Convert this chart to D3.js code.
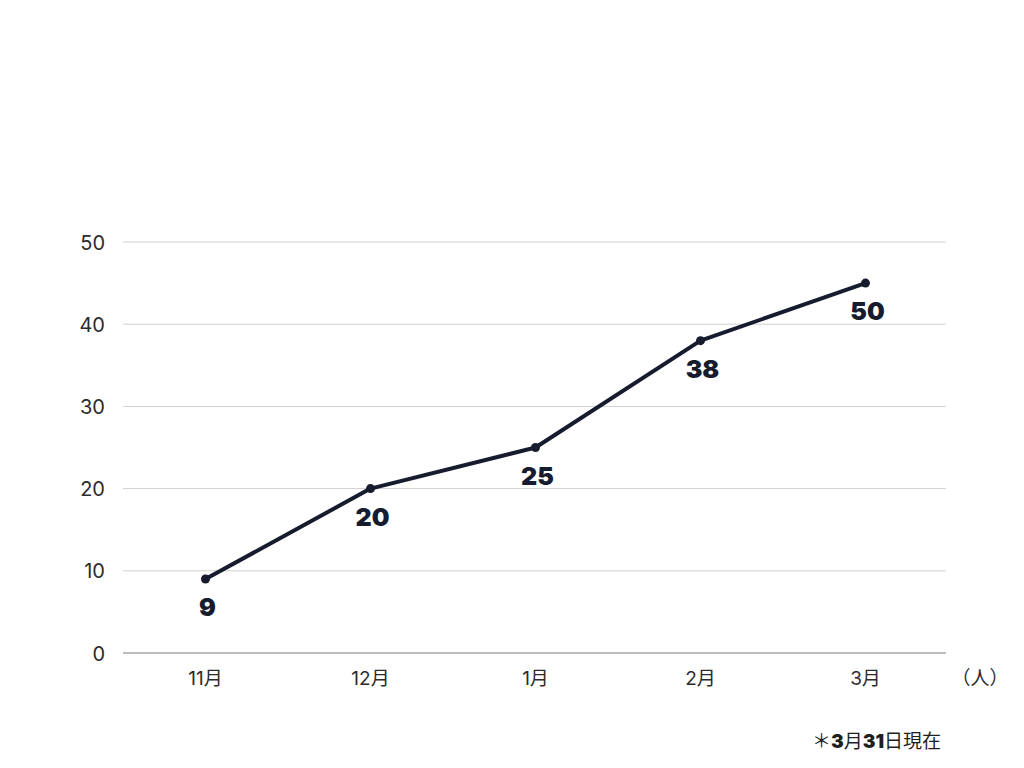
<!DOCTYPE html>
<html><head><meta charset="utf-8">
<script src="https://cdn.jsdelivr.net/npm/d3@7"></script>
<style>body{margin:0;background:#fff}svg{display:block}</style>
</head><body>
<svg id="c" width="1024" height="768"></svg>
<script>
const categories = ["11月","12月","1月","2月","3月"];
const values = [9, 20, 25, 38, 45];
const valueLabels = ["9","20","25","38","50"];
const yTicks = [0,10,20,30,40,50];
const unitLabel = "（人）";

const svg = d3.select("#c");
const m = {left:123, right:948, top:242, bottom:653};
const ink = "#161b2e";
const font = "Inter, 'Noto Sans CJK JP', sans-serif";

const x = d3.scaleBand().domain(categories).range([m.left, m.right]);
const y = d3.scaleLinear().domain([0,50]).range([m.bottom, m.top]);

svg.append("g").selectAll("line").data(yTicks.filter(d=>d>0)).join("line")
  .attr("x1", m.left).attr("x2", 946)
  .attr("y1", d=>y(d)).attr("y2", d=>y(d))
  .attr("stroke", "#d0d0d0").attr("stroke-width", 1);

const yAxis = d3.axisLeft(y).tickValues(yTicks).tickSize(0).tickPadding(0);
const ya = svg.append("g").attr("transform", `translate(105,0)`).call(yAxis);
ya.select(".domain").remove();
ya.selectAll("text").attr("font-family", font).attr("font-size", 20).attr("fill", "#2b2b2b").attr("dy","0.35em");

svg.append("line").attr("x1", m.left).attr("x2", 946).attr("y1", y(0)).attr("y2", y(0))
  .attr("stroke", "#bdbdbd").attr("stroke-width", 2);

const xAxis = d3.axisBottom(x).tickSize(0).tickPadding(0);
const xa = svg.append("g").attr("transform", `translate(0,678)`).call(xAxis);
xa.select(".domain").remove();
xa.selectAll("text").attr("font-family", font).attr("font-size", 19).attr("fill", "#2b2b2b").attr("dy","0.35em");

svg.append("text").attr("x", 980).attr("y", 678).attr("dy","0.35em").attr("text-anchor","middle")
  .attr("font-family", font).attr("font-size", 19).attr("fill", "#2b2b2b").text(unitLabel);

const cx = (d,i) => x(categories[i]) + x.bandwidth()/2;

svg.append("path").datum(values)
  .attr("d", d3.line().x((d,i)=>cx(d,i)).y(d=>y(d)))
  .attr("fill","none").attr("stroke", ink).attr("stroke-width", 4).attr("stroke-linejoin","round");

svg.append("g").selectAll("circle").data(values).join("circle")
  .attr("cx", (d,i)=>cx(d,i)).attr("cy", d=>y(d)).attr("r", 4.5).attr("fill", ink);

svg.append("g").selectAll("text").data(values).join("text")
  .attr("x", (d,i)=>cx(d,i)+2).attr("y", d=>y(d)+37)
  .attr("text-anchor","middle").attr("font-family", font).attr("font-weight", 900)
  .attr("font-size", 25).attr("fill", ink).text((d,i)=>valueLabels[i]);

const fn = svg.append("text").attr("x", 812).attr("y", 748).attr("font-family", font)
  .attr("font-size", 19).attr("fill", "#1f1f1f");
fn.append("tspan").text("＊");
fn.append("tspan").attr("font-weight", 900).text("3");
fn.append("tspan").text("月");
fn.append("tspan").attr("font-weight", 900).text("31");
fn.append("tspan").text("日現在");
</script>
</body></html>
